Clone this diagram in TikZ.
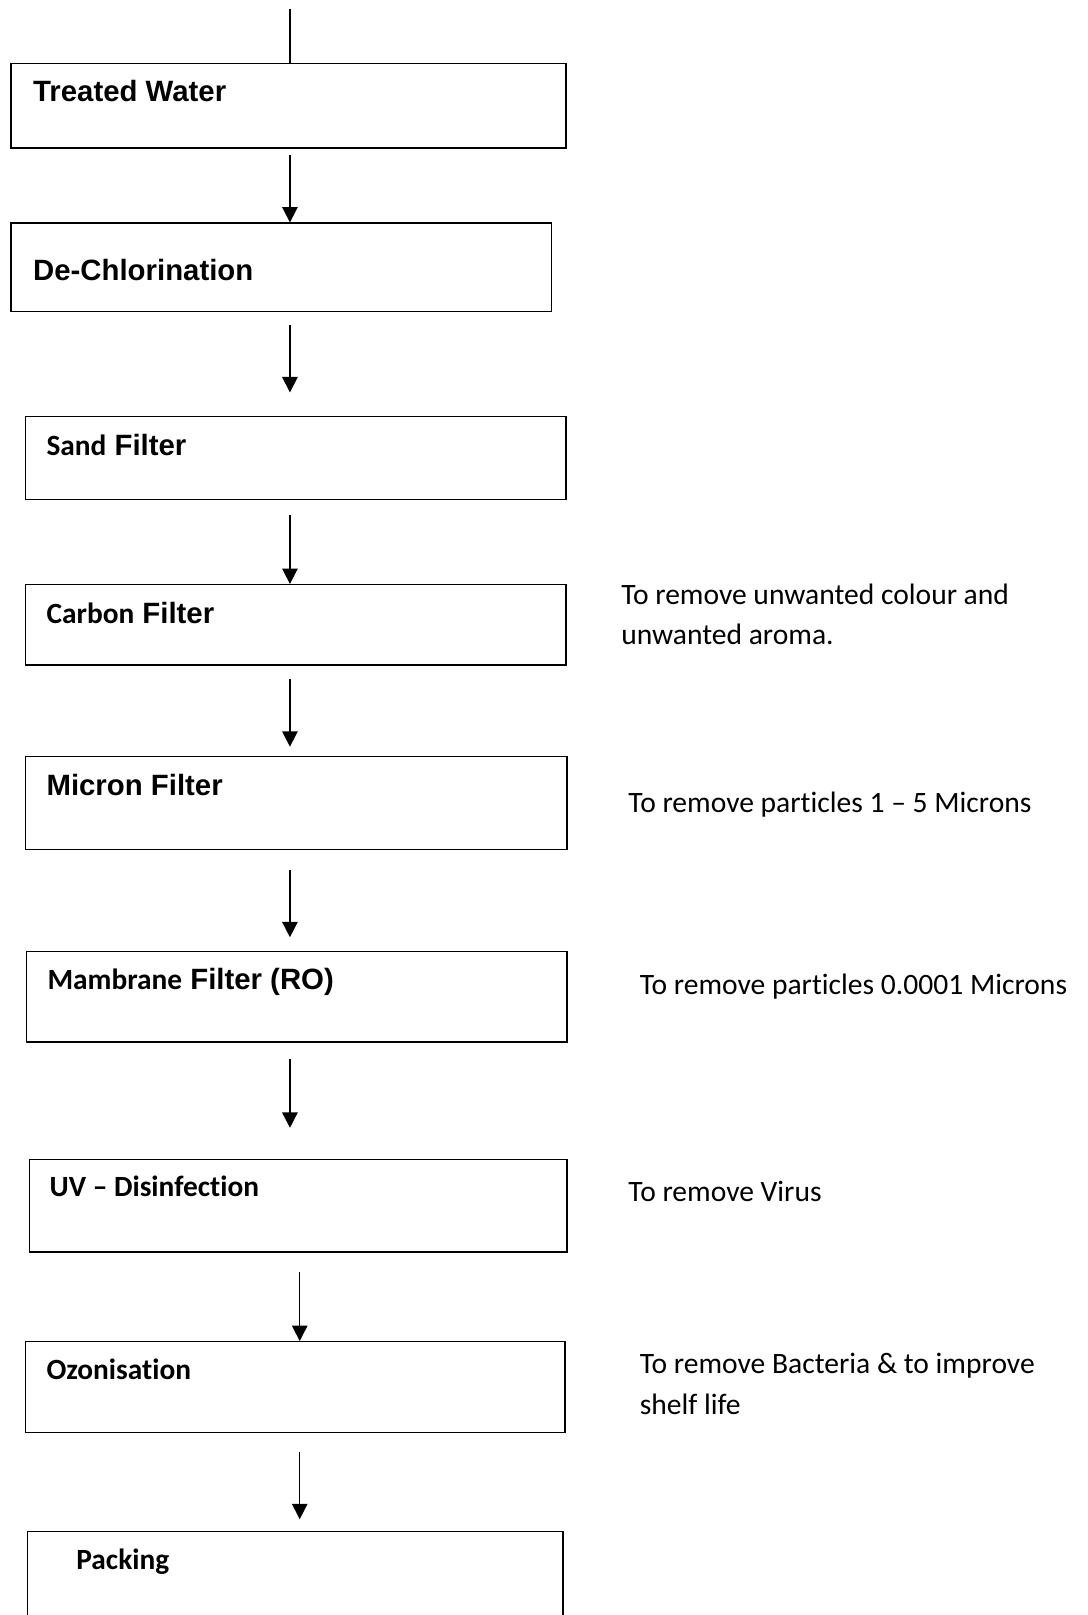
\documentclass[tikz,border=0pt]{standalone}
\usepackage{fontspec}
\setmainfont{Carlito}[Ligatures=NoCommon]
\newfontfamily\headfont{Liberation Sans}
\usetikzlibrary{arrows.meta}

\tikzset{
  stage/.style={draw, line width=1.3pt, rectangle, anchor=north west, inner sep=0pt},
  lbl/.style={anchor=base west, inner sep=0pt, font=\fontsize{28.5}{39.5}\selectfont\bfseries},
  note/.style={anchor=base west, inner sep=0pt, align=left, font=\fontsize{28.7}{39.5}\selectfont},
  flow/.style={line width=1.5pt, -{Triangle[length=15pt,width=15pt]}}
}

\begin{document}
\begin{tikzpicture}[x=1pt,y=-1pt]
    \useasboundingbox (0,0) rectangle (1056,1568);
    \clip (0,0) rectangle (1056,1568);
    % process boxes
    \node[stage, minimum width=539pt, minimum height=82pt] (tw)     at (10,61)   {};
    \node[stage, minimum width=525pt, minimum height=86pt] (dc)     at (10,216)  {};
    \node[stage, minimum width=525pt, minimum height=80pt] (sand)   at (24,404)  {};
    \node[stage, minimum width=525pt, minimum height=78pt] (carbon) at (24,567)  {};
    \node[stage, minimum width=526pt, minimum height=90pt] (micron) at (24,734)  {};
    \node[stage, minimum width=525pt, minimum height=88pt] (ro)     at (25,923)  {};
    \node[stage, minimum width=522pt, minimum height=90pt] (uv)     at (28,1125) {};
    \node[stage, minimum width=524pt, minimum height=88pt] (ozone)  at (24,1302) {};
    \node[stage, minimum width=520pt, minimum height=120pt] (pack)  at (26,1486) {};
    % box titles
    \node[lbl] (twL)     at ([shift={(22,38)}]tw.north west)     {\headfont Treated Water};
    \node[lbl] (dcL)     at ([shift={(22,56)}]dc.north west)     {\headfont De-Chlorination};
    \node[lbl] (sandL)   at ([shift={(21,38)}]sand.north west)   {Sand{\headfont\ Filter}};
    \node[lbl] (carbonL) at ([shift={(21,38)}]carbon.north west) {Carbon{\headfont\ Filter}};
    \node[lbl] (micronL) at ([shift={(21,38)}]micron.north west) {\headfont Micron Filter};
    \node[lbl] (roL)     at ([shift={(21,38)}]ro.north west)     {Mambrane{\headfont\ Filter (RO)}};
    \node[lbl] (uvL)     at ([shift={(20,37)}]uv.north west)     {UV – Disinfection};
    \node[lbl] (ozoneL)  at ([shift={(21,37)}]ozone.north west)  {Ozonisation};
    \node[lbl] (packL)   at ([shift={(48,38)}]pack.north west)   {Packing};
    % notes on the right
    \node[note] (n1) at (603,626)  {To remove unwanted colour and\\unwanted aroma.};
    \node[note] (n2) at (610,789)  {To remove particles 1 – 5 Microns};
    \node[note] (n3) at (621,966)  {To remove particles 0.0001 Microns};
    \node[note] (n4) at (610,1167) {To remove Virus};
    \node[note] (n5) at (621,1373) {To remove Bacteria \& to improve\\shelf life};
    % flow
    \coordinate (in) at (281.5,9);
    \coordinate (col) at (291,0);
    \draw[line width=1.5pt] (in) -- (in |- tw.north);
    \draw[flow, shorten <=6pt] (in |- tw.south) -- (in |- dc.north);
    \draw[flow, shorten <=12pt, shorten >=23pt] (in |- dc.south) -- (in |- sand.north);
    \draw[flow, shorten <=15pt] (in |- sand.south) -- (in |- carbon.north);
    \draw[flow, shorten <=13pt, shorten >=9pt] (in |- carbon.south) -- (in |- micron.north);
    \draw[flow, shorten <=19pt, shorten >=13pt] (in |- micron.south) -- (in |- ro.north);
    \draw[flow, shorten <=16pt, shorten >=30pt] (in |- ro.south) -- (in |- uv.north);
    \draw[flow, shorten <=19pt] (col |- uv.south) -- (col |- ozone.north);
    \draw[flow, shorten <=18pt, shorten >=11pt] (col |- ozone.south) -- (col |- pack.north);
\end{tikzpicture}
\end{document}
